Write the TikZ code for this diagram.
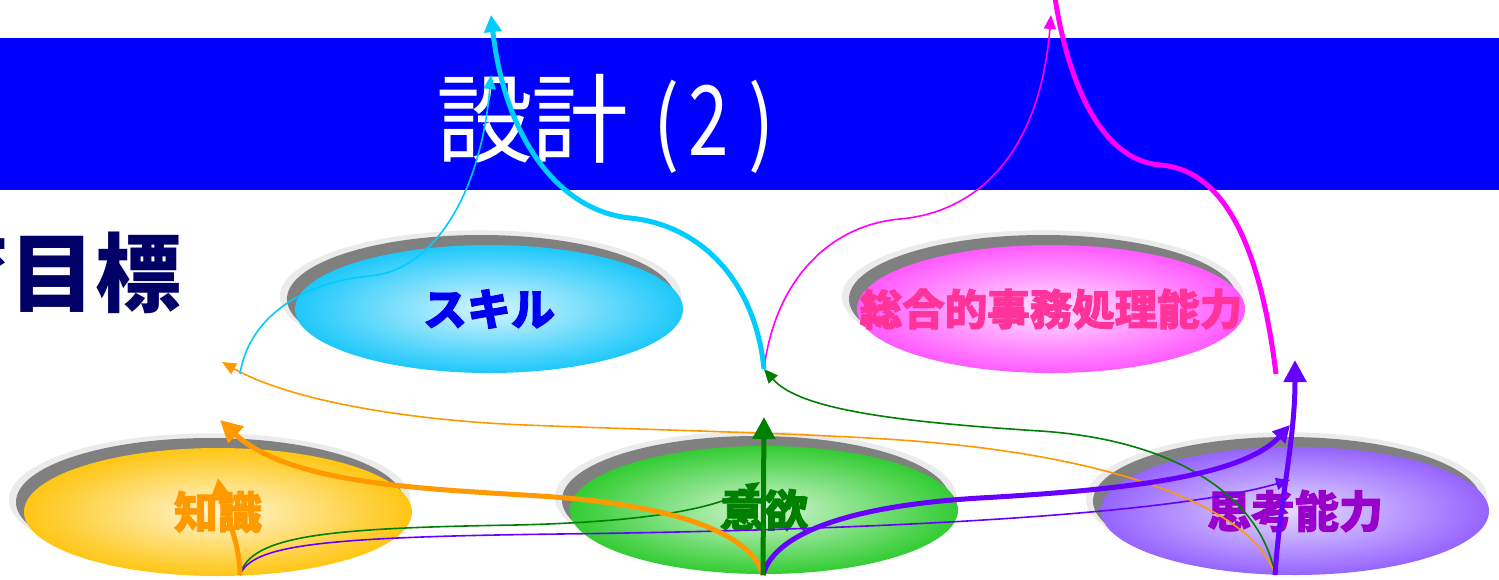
\documentclass[tikz,border=0pt]{standalone}
\usepackage{fontspec}
\usetikzlibrary{shapes.geometric,arrows.meta,shadows}
\newfontfamily\jp{Noto Sans CJK JP}
\newfontfamily\jplab[FakeBold=2]{Noto Sans CJK JP}
\newcommand{\lbl}[1]{\makebox[0pt]{#1}}
\definecolor{bannerblue}{RGB}{0,0,255}
\definecolor{navy}{RGB}{0,0,102}
\definecolor{shlight}{RGB}{235,235,235}
\definecolor{shdark}{RGB}{128,128,128}
\definecolor{lcyan}{RGB}{0,204,255}
\definecolor{lmag}{RGB}{255,0,255}
\definecolor{lorange}{RGB}{255,153,0}
\definecolor{lgreen}{RGB}{0,128,0}
\definecolor{lpurple}{RGB}{102,0,255}
\definecolor{cyanout}{RGB}{30,200,250}
\definecolor{cyanin}{RGB}{215,245,255}
\definecolor{magout}{RGB}{255,90,255}
\definecolor{magin}{RGB}{255,228,255}
\definecolor{yelout}{RGB}{255,198,20}
\definecolor{yelin}{RGB}{255,246,212}
\definecolor{greout}{RGB}{51,204,51}
\definecolor{grein}{RGB}{212,246,212}
\definecolor{purout}{RGB}{150,100,255}
\definecolor{purin}{RGB}{228,218,255}
\definecolor{txtskill}{RGB}{0,0,240}
\definecolor{txtsogo}{RGB}{255,51,153}
\definecolor{txtchi}{RGB}{255,153,0}
\definecolor{txtiyo}{RGB}{0,128,0}
\definecolor{txtshi}{RGB}{153,0,204}
\begin{document}
\begin{tikzpicture}[x=1pt,y=-1pt,
  blob/.style={ellipse, minimum width=388pt, minimum height=128pt, inner sep=0pt,
    general shadow={fill=shlight, shadow xshift=-8pt, shadow yshift=12pt, shadow scale=1.035},
    general shadow={fill=shdark, shadow xshift=-8pt, shadow yshift=10pt},
    font=\jplab\bfseries\fontsize{44}{44}\selectfont},
  thickln/.style={line width=5pt},
  thinln/.style={line width=1.6pt},
  bigtip/.style={-{Triangle[length=22pt,width=22pt]}},
  midtip/.style={-{Triangle[length=17pt,width=17pt]}},
  smalltip/.style={-{Triangle[length=14pt,width=12pt]}}
]
\useasboundingbox (0,0) rectangle (1499,579);
\clip (0,0) rectangle (1499,579);
\fill[white] (0,0) rectangle (1499,579);
% banner
\fill[bannerblue] (0,38) rectangle (1499,190);
\node[anchor=base, inner sep=0pt, text=white, font=\jp\fontsize{97}{97}\selectfont] (title) at (615,155)
  {\makebox[95pt]{設}\makebox[95pt]{計}\makebox[60pt]{\hspace{18pt}\scalebox{0.8}[0.95]{(}}\makebox[43pt]{\scalebox{0.75}[1]{2}}\makebox[62pt]{\scalebox{0.8}[0.95]{)}}};
% heading fragment
\node[anchor=base east, inner sep=0pt, text=navy, font=\jp\bfseries\fontsize{86}{86}\selectfont] (goal) at (181.5,305) {育目標};
% ellipses
\node[blob, inner color=cyanin, outer color=cyanout, text=txtskill] (skill) at (489,309) {\lbl{スキル}};
\node[blob, inner color=magin, outer color=magout, text=txtsogo, font=\jplab\bfseries\fontsize{42.5}{42.5}\selectfont] (sogo) at (1051,309) {\lbl{総合的事務処理能力}};
\node[blob, inner color=yelin, outer color=yelout, text=txtchi] (chishiki) at (218,512) {\lbl{知識}};
\node[blob, inner color=grein, outer color=greout, text=txtiyo] (iyoku) at (764,510) {\lbl{意欲}};
\node[blob, inner color=purin, outer color=purout, text=txtshi] (shiko) at (1295,511) {\lbl{思考能力}};
% connector end points
\coordinate (kO) at (240,575);
\coordinate (iO) at (763,575);
\coordinate (sO) at (1275,575);
\coordinate (mid) at (764,369);
\coordinate (lft) at (240,374);
\coordinate (rgt) at (1276,374);
\coordinate (kT1) at (218,478);
\coordinate (kT2) at (220,420);
\coordinate (kT3) at (222,362);
\coordinate (iT1) at (764,417);
\coordinate (iT2) at (760,482);
\coordinate (sT1) at (1295,360);
\coordinate (sT2) at (1290,425);
\coordinate (sT3) at (1290,480);
\coordinate (cT1) at (491,15);
\coordinate (cT2) at (491,75);
\coordinate (mT1) at (1051,15);
\coordinate (mT2) at (1050,-40);
% thin connectors
\draw[thinln, lgreen, smalltip] (kO) .. controls (250,535) and (330,528) .. (516,525) .. controls (640,522) and (715,510) .. (iT2);
\draw[thinln, lpurple, smalltip] (kO) .. controls (252,545) and (320,537) .. (560,534) .. controls (800,531) and (1150,520) .. (sT3);
\draw[thinln, lgreen, smalltip] (sO) .. controls (1262,500) and (1180,440) .. (1040,431) .. controls (900,422) and (800,410) .. (mid);
\draw[thinln, lorange, smalltip] (sO) .. controls (1255,510) and (1120,455) .. (900,440) .. controls (800,433) and (650,430) .. (526,425) .. controls (420,421) and (295,403) .. (kT3);
\draw[thinln, lcyan, smalltip] (lft) .. controls (248,320) and (300,282) .. (370,276) .. controls (430,271) and (480,200) .. (cT2);
\draw[thinln, lmag, smalltip] (mid) .. controls (775,280) and (830,225) .. (900,219) .. controls (980,212) and (1040,150) .. (mT1);
% thick connectors
\draw[thickln, lcyan, midtip] (mid) .. controls (755,280) and (700,225) .. (630,218) .. controls (560,211) and (505,140) .. (cT1);
\draw[thickln, lmag, bigtip] (rgt) .. controls (1262,260) and (1230,170) .. (1160,165) .. controls (1100,160) and (1065,80) .. (mT2);
\draw[thickln, lorange, bigtip] (kO) .. controls (240,540) and (222,505) .. (kT1);
\draw[thickln, lorange, bigtip] (iO) .. controls (752,535) and (680,505) .. (540,496) .. controls (430,489) and (290,485) .. (kT2);
\draw[thickln, lpurple, midtip] (iO) .. controls (775,530) and (860,505) .. (980,498) .. controls (1100,491) and (1240,480) .. (sT2);
\draw[thickln, lpurple, bigtip] (sO) .. controls (1280,500) and (1295,440) .. (sT1);
\draw[thickln, lgreen, bigtip] (iO) -- (iT1);
\end{tikzpicture}
\end{document}
